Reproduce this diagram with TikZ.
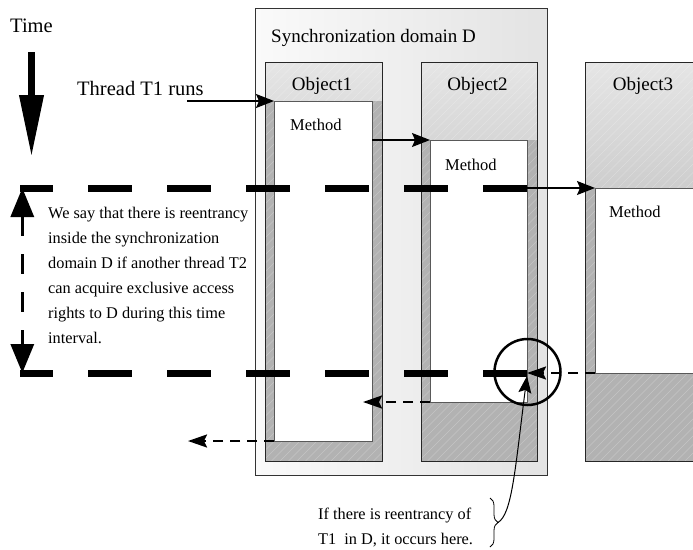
\documentclass[tikz,border=0pt]{standalone}
\usepackage{fontspec}
\setmainfont{Liberation Serif}
\usetikzlibrary{arrows.meta,decorations.pathreplacing,calc}

\tikzset{
  box/.style={rectangle, inner sep=0pt, outer sep=0pt, anchor=north west},
  hatchline/.style={white, line width=0.6pt, opacity=0.25},
  domainbox/.style={box, draw=black!80, line width=0.9pt, left color=black!2, right color=black!11},
  objbox/.style={box, top color=black!10, bottom color=black!40},
  objbody/.style={box, fill=black!30},
  objframe/.style={draw=black!85, line width=0.9pt},
  methodbox/.style={box, fill=white, draw=black!65, line width=0.9pt},
  bigtext/.style={font=\fontsize{20.5}{24}\selectfont, inner sep=0pt, anchor=base west},
  titletext/.style={font=\fontsize{19}{23}\selectfont, inner sep=0pt},
  methodtext/.style={font=\fontsize{16.5}{20}\selectfont, inner sep=0pt, anchor=base west},
  notetext/.style={font=\fontsize{16.3}{25}\selectfont, inner sep=0pt, anchor=base west},
  call/.style={line width=1.3pt, -{Stealth[length=18pt,width=14pt,inset=3pt]}},
  ret/.style={line width=2pt, dash pattern=on 10pt off 7pt, -{Stealth[length=19pt,width=13pt,inset=3pt]}},
  bound/.style={line width=7pt, dash pattern=on 44pt off 35pt, dash phase=11pt},
  span/.style={line width=3.3pt, dash pattern=on 20pt off 18pt,
               {Triangle[length=29pt,width=23pt]}-{Triangle[length=29pt,width=23pt]}},
}

\begin{document}
\begin{tikzpicture}[x=1pt,y=-1pt]
\useasboundingbox (0,0) rectangle (693,549);
\clip (0,0) rectangle (693,549);

% synchronization domain
\node[domainbox, minimum width=292pt, minimum height=467pt] (dom) at (255,8) {};
\node[titletext, anchor=base west] (domlabel) at (271,42) {Synchronization domain D};

% objects: shaded header, darker active body, faint hatching, frame
\node[objbox, minimum width=117pt, minimum height=399pt] (o1) at (265,62) {};
\node[objbox, minimum width=116pt, minimum height=399pt] (o2) at (421,62) {};
\node[objbox, minimum width=140pt, minimum height=399pt] (o3) at (585,62) {};

\node[objbody, minimum width=117pt, minimum height=360pt] (b1) at (265,101) {};
\node[objbody, minimum width=116pt, minimum height=321pt] (b2) at (421,140) {};
\node[objbody, minimum width=140pt, minimum height=273pt] (b3) at (585,188) {};

\foreach \o in {o1,o2,o3}{
  \begin{scope}
    \clip (\o.north west) rectangle (\o.south east);
    \foreach \k in {0,...,64}
      \draw[hatchline] ($(\o.south west)+(-410+\k*8.5,0)$) -- ++(420,-420);
  \end{scope}
  \draw[objframe] (\o.north west) rectangle (\o.south east);
}

\node[methodbox, minimum width=98pt, minimum height=340pt] (m1) at (274,101) {};
\node[methodbox, minimum width=97pt, minimum height=262pt] (m2) at (430,140) {};
\node[methodbox, minimum width=120pt, minimum height=185pt] (m3) at (595,188) {};

\node[titletext, anchor=base] (t1) at (322,90) {Object1};
\node[titletext, anchor=base] (t2) at (477.5,90) {Object2};
\node[titletext, anchor=base] (t3) at (643,90) {Object3};

\node[methodtext] (ml1) at (290,130) {Method};
\node[methodtext] (ml2) at (445,170) {Method};
\node[methodtext] (ml3) at (609,217) {Method};

% time axis
\node[bigtext] (time) at (10,32) {Time};
\coordinate (timetop) at (31.5,52);
\coordinate (timetip) at (31.5,157);
\draw[line width=7pt, -{Triangle[length=62pt,width=23pt]}] (timetop) -- (timetip);

% thread entry
\node[bigtext] (thread) at (77,95) {Thread T1 runs};
\coordinate (threadstart) at (187,101);
\draw[call] (threadstart) -- (m1.north west);

% nested calls
\draw[call] (m1.east |- m2.north west) -- (m2.north west);
\draw[call] (m2.east |- m3.north west) -- (m3.north west);

% interval boundaries
\coordinate (topL) at (20,188);
\coordinate (botL) at (20,373);
\draw[bound] (topL) -- (m2.east |- topL);
\draw[bound] (botL) -- (m2.east |- botL);
\coordinate (spanT) at (22.3,188);
\coordinate (spanB) at (22.3,373);
\draw[span] (spanT) -- (spanB);

\node[notetext] (note) at (48,218) {\parbox[t]{210pt}{\raggedright
  We say that there is reentrancy\\
  inside the synchronization\\
  domain D if another thread T2\\
  can acquire exclusive access\\
  rights to D during this time\\
  interval.}};

% returns
\coordinate (ret1start) at (dom.west |- m1.south west);
\coordinate (ret1end) at (188,441);
\draw[ret] (m3.south west) -- (m2.east |- m3.south west);
\draw[ret] (m2.south west) -- ([xshift=-9pt]m1.east |- m2.south west);
\draw[ret] (m1.south west) -- (ret1start) -- (ret1end);

% reentrancy point
\node[circle, draw, line width=2.5pt, minimum size=66pt, inner sep=0pt] (spot) at (527.5,372) {};

\node[notetext] (why) at (318,519) {\parbox[t]{170pt}{\raggedright
  If there is reentrancy of\\
  T1\ \ in D, it occurs here.}};
\coordinate (braceTop) at (490,498);
\coordinate (braceBot) at (490,547);
\draw[line width=0.8pt, decorate, decoration={brace, amplitude=8pt}] (braceTop) -- (braceBot);
\coordinate (braceTip) at (498,522.5);
\coordinate (hitpoint) at (527,376);
\draw[line width=1pt, -{Stealth[length=17pt,width=13pt,inset=3pt]}]
  (braceTip) .. controls (512,514) and (515,470) .. (hitpoint);
\end{tikzpicture}
\end{document}
